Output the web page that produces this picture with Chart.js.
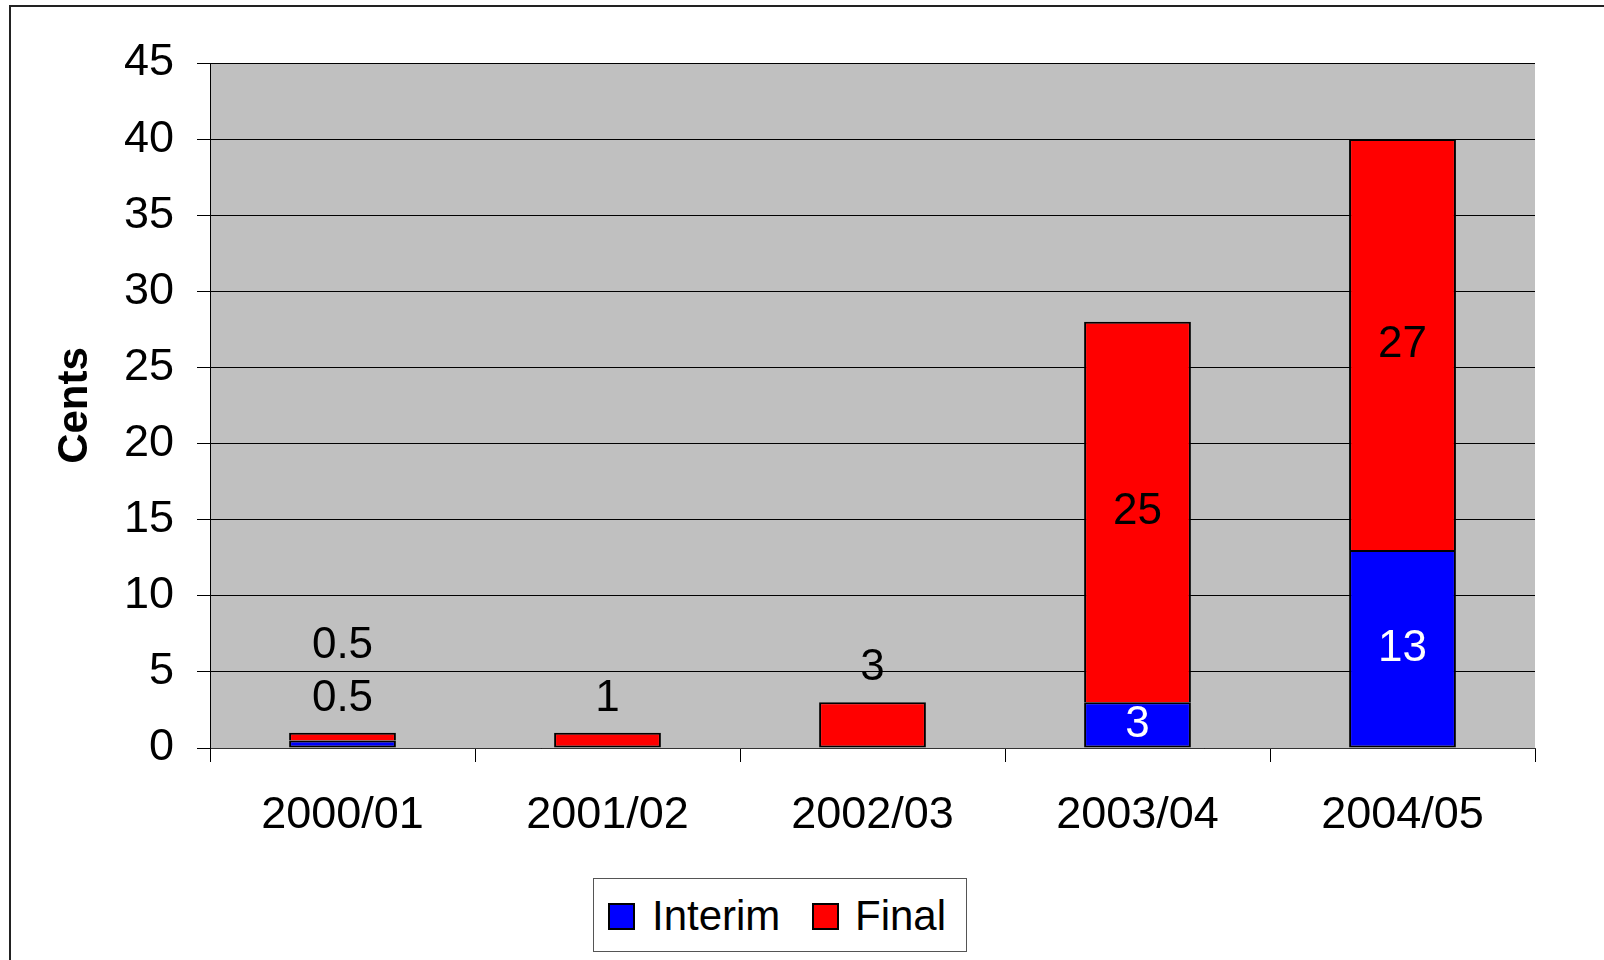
<!DOCTYPE html>
<html>
<head>
<meta charset="utf-8">
<script src="https://cdn.jsdelivr.net/npm/chart.js@4"></script>
<style>
  html, body { margin: 0; padding: 0; background: #fff; overflow: hidden; }
  #wrap { position: relative; width: 1604px; height: 960px; }
  #frame { position: absolute; left: 9px; top: 5px; width: 1700px; height: 1100px;
           border: 2px solid #222; box-sizing: border-box; }
  canvas { position: absolute; left: 0; top: 0; }
  #legend { position: absolute; left: 593px; top: 878px; width: 374px; height: 74px;
            border: 1px solid #555; box-sizing: border-box; background: #fff;
            font-family: "Liberation Sans", Arial, sans-serif; font-size: 42px; line-height: 42px; color: #000; }
  #legend .sw { position: absolute; top: 24px; width: 27px; height: 27px; border: 2px solid #000; box-sizing: border-box; }
  #legend .tx { position: absolute; top: 16px; white-space: nowrap; }
</style>
</head>
<body>
<div id="wrap">
  <div id="frame"></div>
  <canvas id="chart" width="1604" height="960"></canvas>
  <div id="legend"></div>
</div>
<script>
// data
const categories = ['2000/01', '2001/02', '2002/03', '2003/04', '2004/05'];
const interim = [0.5, null, null, 3, 13];
const final = [0.5, 1, 3, 25, 27];
const yTicks = [0, 5, 10, 15, 20, 25, 30, 35, 40, 45];

const seriesNames = ['Interim', 'Final'];
const seriesColors = ['#0000FF', '#FF0000'];
const labelColors = ['#FFFFFF', '#000000'];

const FONT = '"Liberation Sans", Arial, sans-serif';

// grey plot background
const plotBg = {
  id: 'plotBg',
  beforeDraw(chart) {
    const a = chart.chartArea;
    const ctx = chart.ctx;
    ctx.save();
    ctx.fillStyle = '#C0C0C0';
    ctx.fillRect(a.left, a.top, a.right - a.left, a.bottom - a.top);
    ctx.restore();
  }
};

// value labels: centred in the segment, or above the stack when it is too thin
const valueLabels = {
  id: 'valueLabels',
  afterDatasetsDraw(chart) {
    const ctx = chart.ctx;
    const yScale = chart.scales.y;
    const nSets = chart.data.datasets.length;
    const above = {};
    ctx.save();
    ctx.font = '44px ' + FONT;
    ctx.textAlign = 'center';
    ctx.textBaseline = 'middle';
    chart.data.datasets.forEach((ds, di) => {
      chart.getDatasetMeta(di).data.forEach((bar, i) => {
        const v = ds.data[i];
        if (v == null) return;
        const h = Math.abs(bar.base - bar.y);
        const isTop = di === nSets - 1;
        let y;
        if (h >= (isTop ? 50 : 40)) {
          y = (bar.y + bar.base) / 2;
          ctx.fillStyle = ds.labelColor;
        } else {
          const total = (interim[i] || 0) + (final[i] || 0);
          const n = above[i] || 0;
          above[i] = n + 1;
          y = yScale.getPixelForValue(total) - 34 - n * 53;
          ctx.fillStyle = '#000';
        }
        ctx.fillText(String(v), bar.x, y);
      });
    });
    ctx.restore();
  }
};

const datasets = [interim, final].map((values, k) => ({
  label: seriesNames[k],
  data: values,
  backgroundColor: seriesColors[k],
  borderColor: '#000',
  // the upper segment shares the lower one's top edge, so it skips its own bottom border
  borderWidth: (c) => (k === 1 && interim[c.dataIndex]) ? { top: 2, left: 2, right: 2, bottom: 0 } : 2,
  borderSkipped: false,
  labelColor: labelColors[k],
  barPercentage: 1,
  categoryPercentage: 0.403
}));

new Chart(document.getElementById('chart'), {
  type: 'bar',
  data: { labels: categories, datasets: datasets },
  options: {
    responsive: false,
    animation: false,
    devicePixelRatio: 1,
    layout: { padding: { left: 0, top: 63, right: 69, bottom: 0 } },
    plugins: { legend: { display: false }, tooltip: { enabled: false } },
    scales: {
      x: {
        stacked: true,
        afterFit(scale) { scale.height = 212; },
        grid: { offset: true, drawOnChartArea: false, color: '#000', tickLength: 14 },
        border: { color: '#333', width: 1 },
        ticks: { color: '#000', font: { family: FONT, size: 45 }, padding: 27, maxRotation: 0 }
      },
      y: {
        stacked: true,
        min: yTicks[0],
        max: yTicks[yTicks.length - 1],
        afterFit(scale) { scale.width = 210; },
        afterBuildTicks(scale) { scale.ticks = yTicks.map(v => ({ value: v })); },
        grid: { color: '#000', lineWidth: 1, tickLength: 13 },
        border: { color: '#000', width: 1 },
        ticks: { color: '#000', font: { family: FONT, size: 45 }, padding: 23 },
        title: {
          display: true,
          text: 'Cents',
          color: '#000',
          font: { family: FONT, size: 42, weight: 'bold', lineHeight: 1 },
          padding: { top: 54, bottom: 0 }
        }
      }
    }
  },
  plugins: [plotBg, valueLabels]
});

// legend
const legend = document.getElementById('legend');
const legendPos = [[14, 58], [218, 261]];
seriesNames.forEach((name, k) => {
  const sw = document.createElement('div');
  sw.className = 'sw';
  sw.style.left = legendPos[k][0] + 'px';
  sw.style.background = seriesColors[k];
  legend.appendChild(sw);
  const tx = document.createElement('div');
  tx.className = 'tx';
  tx.style.left = legendPos[k][1] + 'px';
  tx.textContent = name;
  legend.appendChild(tx);
});
</script>
</body>
</html>
